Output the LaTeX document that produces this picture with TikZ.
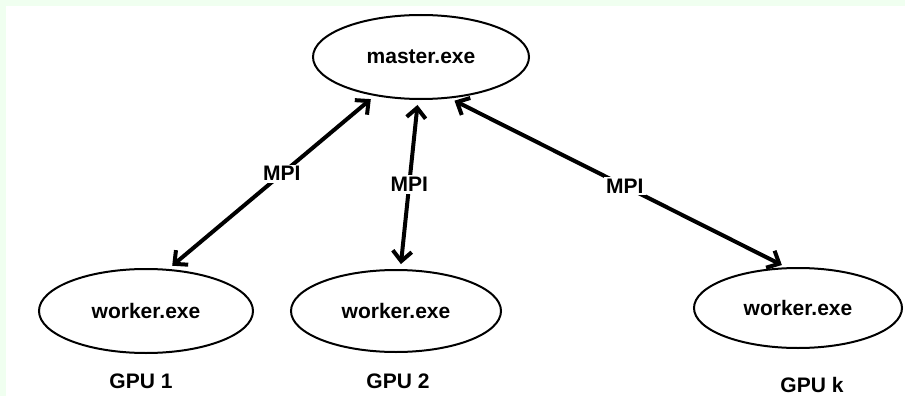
\documentclass[tikz,border=0pt]{standalone}
\usepackage{fontspec}
\setmainfont{Liberation Sans}
\usetikzlibrary{arrows.meta, shapes.geometric, positioning}
\definecolor{bggreen}{RGB}{240,255,240}
\tikzset{
  proc/.style={draw, ellipse, line width=2pt, inner sep=0pt,
    font=\bfseries\fontsize{21}{24}\selectfont},
  gpulabel/.style={font=\bfseries\fontsize{21}{24}\selectfont},
  mpilink/.style={<->, line width=4pt,
    >={Straight Barb[length=10pt,width=19pt]}, shorten <=5pt, shorten >=5pt},
  mpilabel/.style={fill=white, inner sep=2pt,
    font=\bfseries\fontsize{21}{24}\selectfont}
}

\begin{document}
\begin{tikzpicture}[x=1pt, y=-1pt]
		\useasboundingbox (0,0) rectangle (905,396);
		\fill[bggreen] (0,0) rectangle (905,396);
		\fill[white] (6,6) rectangle (905,396);
		% processes
		\node[proc, minimum width=216pt, minimum height=84pt] (master) at (421,57) {master.exe};
		\node[proc, minimum width=214pt, minimum height=84pt] (w1) at (146,311) {worker.exe};
		\node[proc, minimum width=210pt, minimum height=82pt] (w2) at (396,311) {worker.exe};
		\node[proc, minimum width=208pt, minimum height=80pt] (wk) at (798,308) {worker.exe};
		% devices
		\node[gpulabel] (g1) at (141,381) {GPU 1};
		\node[gpulabel] (g2) at (398,381) {GPU 2};
		\node[gpulabel] (gk) at (812,385) {GPU k};
		% links
		\draw[mpilink] (master.220) -- node[mpilabel, pos=0.45] (m1) {MPI} (w1.62);
		\draw[mpilink] (master.266) -- node[mpilabel, pos=0.5] (m2) {MPI} (w2.84);
		\draw[mpilink] (master.305) -- node[mpilabel, pos=0.52] (mk) {MPI} (wk.106);
	\end{tikzpicture}
\end{document}
